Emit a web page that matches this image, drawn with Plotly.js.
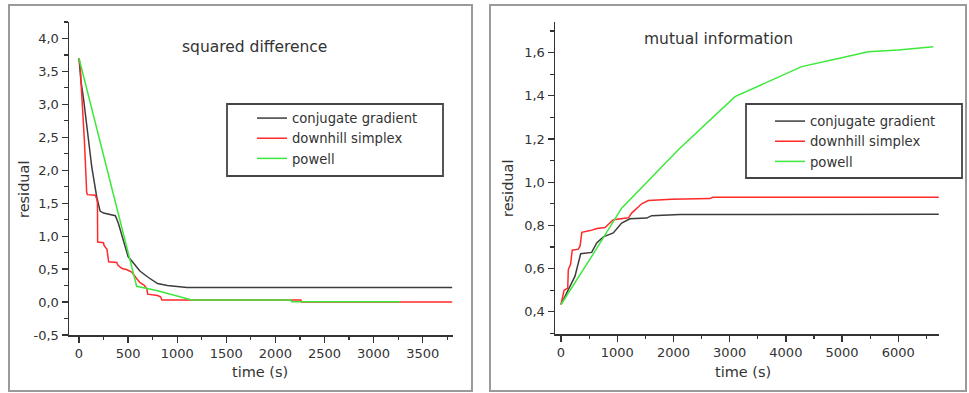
<!DOCTYPE html>
<html>
<head>
<meta charset="utf-8">
<script src="https://cdn.plot.ly/plotly-3.0.1.min.js"></script>
<style>
  html, body { margin: 0; padding: 0; background: #ffffff; }
  #chart { width: 969px; height: 393px; }
</style>
</head>
<body>
<div id="chart"></div>
<script>
// ---------- data: squared difference (left panel) ----------
var seriesNames = ['conjugate gradient', 'downhill simplex', 'powell'];

var sqCgX = [0, 20, 45, 90, 130, 180, 215, 250, 370, 400, 440, 500, 550, 620, 700, 800, 900, 1000, 1100, 3800];
var sqCgY = [3.70, 3.35, 3.10, 2.50, 2.05, 1.60, 1.38, 1.35, 1.31, 1.20, 0.98, 0.69, 0.60, 0.47, 0.38, 0.28, 0.25, 0.24, 0.22, 0.22];

var sqDsX = [0, 15, 20, 35, 40, 50, 55, 78, 85, 165, 180, 188, 190, 250, 255, 285, 290, 298, 302, 385, 395, 420, 440, 490, 540, 590, 625, 660, 690, 700, 800, 830, 845, 930, 1160, 2160, 2260, 2265, 3800];
var sqDsY = [3.70, 3.55, 3.35, 3.00, 2.90, 2.60, 2.45, 1.67, 1.63, 1.62, 1.57, 1.50, 0.91, 0.90, 0.86, 0.80, 0.74, 0.66, 0.61, 0.60, 0.56, 0.53, 0.51, 0.49, 0.45, 0.35, 0.29, 0.26, 0.20, 0.12, 0.10, 0.08, 0.03, 0.03, 0.03, 0.03, 0.03, 0.0, 0.0];

var sqPwX = [0, 587, 790, 1150, 2160, 2165, 3270];
var sqPwY = [3.70, 0.24, 0.175, 0.03, 0.03, 0.005, 0.005];

// ---------- data: mutual information (right panel) ----------
var miCgX = [0, 160, 249, 350, 546, 635, 753, 930, 1079, 1227, 1524, 1613, 2117, 6720];
var miCgY = [0.434, 0.518, 0.565, 0.669, 0.675, 0.719, 0.747, 0.765, 0.811, 0.831, 0.834, 0.845, 0.85, 0.852];

var miDsX = [0, 50, 55, 120, 130, 170, 200, 310, 340, 370, 520, 640, 783, 931, 1200, 1257, 1435, 1553, 1969, 2650, 2700, 6720];
var miDsY = [0.434, 0.50, 0.50, 0.51, 0.595, 0.62, 0.685, 0.69, 0.705, 0.768, 0.776, 0.786, 0.79, 0.826, 0.835, 0.857, 0.90, 0.915, 0.921, 0.924, 0.93, 0.93];

var miPwX = [0, 575, 1079, 2087, 3095, 3688, 4281, 4874, 5466, 6000, 6622];
var miPwY = [0.434, 0.668, 0.88, 1.15, 1.396, 1.466, 1.535, 1.569, 1.604, 1.612, 1.627];

// ---------- tick labels ----------
var sqYTickVals = [-0.5, 0.0, 0.5, 1.0, 1.5, 2.0, 2.5, 3.0, 3.5, 4.0];
var sqYTickText = ['-0,5', '0,0', '0,5', '1,0', '1,5', '2,0', '2,5', '3,0', '3,5', '4,0'];
var miYTickVals = [0.4, 0.6, 0.8, 1.0, 1.2, 1.4, 1.6];
var miYTickText = ['0,4', '0,6', '0,8', '1,0', '1,2', '1,4', '1,6'];

var panelTitles = ['squared difference', 'mutual information'];
var xTitle = 'time (s)';
var yTitle = 'residual';

// ---------- styling ----------
var W = 969, H = 393;
function px(x) { return x / W; }
function py(y) { return 1 - y / H; }

var colors = ['#3c3c3c', '#ff2a2a', '#3de83d'];
var FONT = 'DejaVu Sans, Verdana, sans-serif';
var TXT = '#333333';

function mk(x, y, i, xa, ya, leg) {
  return {
    x: x, y: y, type: 'scatter', mode: 'lines', name: seriesNames[i],
    xaxis: xa, yaxis: ya, legend: leg,
    line: { color: colors[i], width: 1.5 },
    hoverinfo: 'skip'
  };
}

var data = [
  mk(sqCgX, sqCgY, 0, 'x', 'y', 'legend'),
  mk(sqDsX, sqDsY, 1, 'x', 'y', 'legend'),
  mk(sqPwX, sqPwY, 2, 'x', 'y', 'legend'),
  mk(miCgX, miCgY, 0, 'x2', 'y2', 'legend2'),
  mk(miDsX, miDsY, 1, 'x2', 'y2', 'legend2'),
  mk(miPwX, miPwY, 2, 'x2', 'y2', 'legend2')
];

function axisBase() {
  return {
    showline: true, linecolor: '#333333', linewidth: 1.5,
    ticks: 'outside', ticklen: 6, tickwidth: 1.3, tickcolor: '#333333',
    showgrid: false, zeroline: false,
    tickfont: { family: FONT, size: 13, color: TXT },
    fixedrange: true
  };
}

var xa1 = Object.assign(axisBase(), {
  domain: [px(69), px(453)], range: [-101.8, 3808.5],
  tickmode: 'linear', tick0: 0, dtick: 500, anchor: 'y',
  minor: { ticks: 'outside', ticklen: 3.5, tickwidth: 1.2, tickcolor: '#333333', tickmode: 'linear', tick0: 0, dtick: 250, showgrid: false }
});
var ya1 = Object.assign(axisBase(), {
  domain: [py(335), py(22)], range: [-0.5, 4.25],
  tickmode: 'array', tickvals: sqYTickVals, ticktext: sqYTickText, anchor: 'x',
  minor: { ticks: 'outside', ticklen: 3.5, tickwidth: 1.2, tickcolor: '#333333', tickmode: 'linear', tick0: 0, dtick: 0.25, showgrid: false }
});
var xa2 = Object.assign(axisBase(), {
  domain: [px(555), px(939)], range: [-106.7, 6724],
  tickmode: 'linear', tick0: 0, dtick: 1000, anchor: 'y2',
  minor: { ticks: 'outside', ticklen: 3.5, tickwidth: 1.2, tickcolor: '#333333', tickmode: 'linear', tick0: 0, dtick: 500, showgrid: false }
});
var ya2 = Object.assign(axisBase(), {
  domain: [py(334), py(22)], range: [0.2974, 1.7415],
  tickmode: 'array', tickvals: miYTickVals, ticktext: miYTickText, anchor: 'x2',
  minor: { ticks: 'outside', ticklen: 3.5, tickwidth: 1.2, tickcolor: '#333333', tickmode: 'linear', tick0: 0, dtick: 0.1, showgrid: false }
});

function ann(text, x, y, size, angle) {
  return {
    text: text, xref: 'paper', yref: 'paper', x: px(x), y: py(y),
    xanchor: 'center', yanchor: 'middle', showarrow: false,
    textangle: angle || 0,
    font: { family: FONT, size: size, color: TXT }
  };
}

function rect(x0, y0, x1, y1, color, w) {
  return {
    type: 'rect', xref: 'paper', yref: 'paper',
    x0: px(x0), x1: px(x1), y0: py(y1), y1: py(y0),
    line: { color: color, width: w }, fillcolor: 'rgba(0,0,0,0)', layer: 'above'
  };
}

var legendBase = {
  xanchor: 'left', yanchor: 'top', bgcolor: 'rgba(0,0,0,0)', borderwidth: 0,
  font: { family: FONT, size: 13.2, color: TXT }, tracegroupgap: 0, itemclick: false, itemdoubleclick: false
};

var layout = {
  width: W, height: H,
  margin: { l: 0, r: 0, t: 0, b: 0, pad: 0 },
  paper_bgcolor: '#ffffff', plot_bgcolor: '#ffffff',
  separators: ',.',
  showlegend: true,
  xaxis: xa1, yaxis: ya1, xaxis2: xa2, yaxis2: ya2,
  legend: Object.assign({}, legendBase, { x: px(252), y: py(103) }),
  legend2: Object.assign({}, legendBase, { x: px(770), y: py(106) }),
  annotations: [
    ann(panelTitles[0], 254, 47, 15.5),
    ann(panelTitles[1], 718, 39, 15.5),
    ann(yTitle, 24, 190, 14.5, -90),
    ann(xTitle, 260, 372, 14.5),
    ann(yTitle, 508, 189, 14.5, -90),
    ann(xTitle, 743, 372, 14.5)
  ],
  shapes: [
    rect(9, 5, 472, 391, '#9a9a9a', 2),
    rect(490, 5, 966, 391, '#9a9a9a', 2),
    rect(227, 104, 443, 176, '#444444', 1.8),
    rect(746, 104, 962, 178, '#444444', 1.8)
  ]
};

Plotly.newPlot('chart', data, layout, { displayModeBar: false, staticPlot: true });
</script>
</body>
</html>
